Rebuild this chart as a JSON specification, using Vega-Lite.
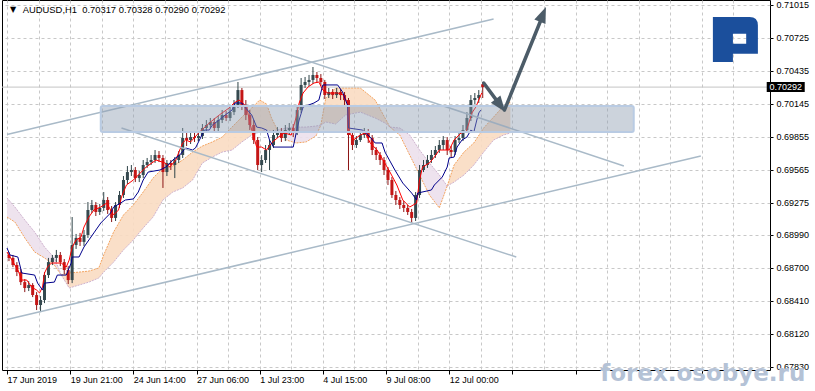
{
"$schema":"https://vega.github.io/schema/vega-lite/v6.json",
"width":768,"height":370,"autosize":{"type":"none"},
"padding":{"left":2,"top":0,"right":45,"bottom":21},
"background":"white",
"config":{"view":{"stroke":"black","strokeWidth":1},"font":"Liberation Sans"},
"datasets":{
"one":[{}],
"candles":[
{"t":4,"o":0.68814,"h":0.68840,"l":0.68760,"c":0.68788},{"t":8,"o":0.68788,"h":0.68814,"l":0.68707,"c":0.68725},{"t":12,"o":0.68725,"h":0.68751,"l":0.68628,"c":0.68663},{"t":16,"o":0.68663,"h":0.68690,"l":0.68549,"c":0.68575},{"t":20,"o":0.68575,"h":0.68602,"l":0.68487,"c":0.68523},{"t":24,"o":0.68523,"h":0.68584,"l":0.68496,"c":0.68549},{"t":28,"o":0.68549,"h":0.68566,"l":0.68443,"c":0.68461},{"t":32,"o":0.68461,"h":0.68487,"l":0.68329,"c":0.68373},{"t":36,"o":0.68373,"h":0.68452,"l":0.68311,"c":0.68417},{"t":40,"o":0.68417,"h":0.68663,"l":0.68390,"c":0.68637},
{"t":44,"o":0.68637,"h":0.68788,"l":0.68611,"c":0.68751},{"t":48,"o":0.68751,"h":0.68814,"l":0.68725,"c":0.68788},{"t":52,"o":0.68788,"h":0.68858,"l":0.68751,"c":0.68814},{"t":56,"o":0.68814,"h":0.68840,"l":0.68716,"c":0.68751},{"t":60,"o":0.68751,"h":0.68778,"l":0.68646,"c":0.68681},{"t":64,"o":0.68681,"h":0.68716,"l":0.68558,"c":0.68593},{"t":68,"o":0.68593,"h":0.69148,"l":0.68566,"c":0.68902},{"t":72,"o":0.68902,"h":0.68999,"l":0.68867,"c":0.68964},{"t":76,"o":0.68964,"h":0.69008,"l":0.68893,"c":0.68929},{"t":80,"o":0.68929,"h":0.69034,"l":0.68893,"c":0.68990},
{"t":84,"o":0.68990,"h":0.69280,"l":0.68964,"c":0.69210},{"t":88,"o":0.69210,"h":0.69298,"l":0.69184,"c":0.69254},{"t":92,"o":0.69254,"h":0.69280,"l":0.69157,"c":0.69192},{"t":96,"o":0.69192,"h":0.69263,"l":0.69166,"c":0.69228},{"t":100,"o":0.69228,"h":0.69368,"l":0.69201,"c":0.69298},{"t":104,"o":0.69298,"h":0.69324,"l":0.69175,"c":0.69210},{"t":108,"o":0.69210,"h":0.69245,"l":0.69104,"c":0.69140},{"t":112,"o":0.69140,"h":0.69280,"l":0.69113,"c":0.69254},{"t":116,"o":0.69254,"h":0.69377,"l":0.69228,"c":0.69342},{"t":120,"o":0.69342,"h":0.69509,"l":0.69316,"c":0.69474},
{"t":124,"o":0.69474,"h":0.69597,"l":0.69439,"c":0.69544},{"t":128,"o":0.69544,"h":0.69606,"l":0.69509,"c":0.69562},{"t":132,"o":0.69562,"h":0.69588,"l":0.69456,"c":0.69491},{"t":136,"o":0.69491,"h":0.69553,"l":0.69456,"c":0.69518},{"t":140,"o":0.69518,"h":0.69650,"l":0.69491,"c":0.69606},{"t":144,"o":0.69606,"h":0.69668,"l":0.69580,"c":0.69632},{"t":148,"o":0.69632,"h":0.69694,"l":0.69606,"c":0.69650},{"t":152,"o":0.69650,"h":0.69738,"l":0.69624,"c":0.69694},{"t":156,"o":0.69694,"h":0.69729,"l":0.69632,"c":0.69668},{"t":160,"o":0.69668,"h":0.69694,"l":0.69404,"c":0.69544},
{"t":164,"o":0.69544,"h":0.69650,"l":0.69509,"c":0.69624},{"t":168,"o":0.69624,"h":0.69650,"l":0.69562,"c":0.69606},{"t":172,"o":0.69606,"h":0.69676,"l":0.69491,"c":0.69650},{"t":176,"o":0.69650,"h":0.69729,"l":0.69624,"c":0.69694},{"t":180,"o":0.69694,"h":0.69932,"l":0.69668,"c":0.69844},{"t":184,"o":0.69844,"h":0.69888,"l":0.69773,"c":0.69826},{"t":188,"o":0.69826,"h":0.69888,"l":0.69791,"c":0.69852},{"t":192,"o":0.69852,"h":0.69888,"l":0.69809,"c":0.69844},{"t":196,"o":0.69844,"h":0.69896,"l":0.69817,"c":0.69861},{"t":200,"o":0.69861,"h":0.69967,"l":0.69835,"c":0.69932},
{"t":204,"o":0.69932,"h":0.70002,"l":0.69905,"c":0.69958},{"t":208,"o":0.69958,"h":0.70020,"l":0.69932,"c":0.69985},{"t":212,"o":0.69985,"h":0.70020,"l":0.69896,"c":0.69932},{"t":216,"o":0.69932,"h":0.70037,"l":0.69905,"c":0.70002},{"t":220,"o":0.70002,"h":0.70090,"l":0.69976,"c":0.70046},{"t":224,"o":0.70046,"h":0.70081,"l":0.69993,"c":0.70020},{"t":228,"o":0.70020,"h":0.70116,"l":0.69993,"c":0.70072},{"t":232,"o":0.70072,"h":0.70178,"l":0.70046,"c":0.70134},{"t":236,"o":0.70134,"h":0.70337,"l":0.70108,"c":0.70266},{"t":240,"o":0.70266,"h":0.70284,"l":0.70090,"c":0.70134},
{"t":244,"o":0.70134,"h":0.70178,"l":0.70002,"c":0.70046},{"t":248,"o":0.70046,"h":0.70090,"l":0.69914,"c":0.69958},{"t":252,"o":0.69958,"h":0.70002,"l":0.69791,"c":0.69826},{"t":256,"o":0.69826,"h":0.69852,"l":0.69562,"c":0.69606},{"t":260,"o":0.69606,"h":0.69694,"l":0.69544,"c":0.69650},{"t":264,"o":0.69650,"h":0.69782,"l":0.69624,"c":0.69738},{"t":268,"o":0.69738,"h":0.69826,"l":0.69562,"c":0.69782},{"t":272,"o":0.69782,"h":0.69914,"l":0.69756,"c":0.69870},{"t":276,"o":0.69870,"h":0.69940,"l":0.69844,"c":0.69896},{"t":280,"o":0.69896,"h":0.69932,"l":0.69809,"c":0.69844},
{"t":284,"o":0.69844,"h":0.69958,"l":0.69817,"c":0.69914},{"t":288,"o":0.69914,"h":0.69976,"l":0.69879,"c":0.69932},{"t":292,"o":0.69932,"h":0.69967,"l":0.69852,"c":0.69896},{"t":296,"o":0.69896,"h":0.70125,"l":0.69870,"c":0.70090},{"t":300,"o":0.70090,"h":0.70372,"l":0.70064,"c":0.70311},{"t":304,"o":0.70311,"h":0.70381,"l":0.70284,"c":0.70337},{"t":308,"o":0.70337,"h":0.70399,"l":0.70302,"c":0.70355},{"t":312,"o":0.70355,"h":0.70469,"l":0.70320,"c":0.70399},{"t":316,"o":0.70399,"h":0.70425,"l":0.70328,"c":0.70372},{"t":320,"o":0.70372,"h":0.70407,"l":0.70302,"c":0.70337},
{"t":324,"o":0.70337,"h":0.70355,"l":0.70187,"c":0.70222},{"t":328,"o":0.70222,"h":0.70284,"l":0.70196,"c":0.70249},{"t":332,"o":0.70249,"h":0.70275,"l":0.70187,"c":0.70222},{"t":336,"o":0.70222,"h":0.70284,"l":0.70196,"c":0.70249},{"t":340,"o":0.70249,"h":0.70275,"l":0.70178,"c":0.70222},{"t":344,"o":0.70222,"h":0.70249,"l":0.70134,"c":0.70178},{"t":348,"o":0.70178,"h":0.70196,"l":0.69562,"c":0.69870},{"t":352,"o":0.69870,"h":0.69896,"l":0.69738,"c":0.69782},{"t":356,"o":0.69782,"h":0.69861,"l":0.69756,"c":0.69826},{"t":360,"o":0.69826,"h":0.69905,"l":0.69809,"c":0.69870},
{"t":364,"o":0.69870,"h":0.69932,"l":0.69844,"c":0.69896},{"t":368,"o":0.69896,"h":0.69923,"l":0.69800,"c":0.69844},{"t":372,"o":0.69844,"h":0.69870,"l":0.69694,"c":0.69738},{"t":376,"o":0.69738,"h":0.69764,"l":0.69650,"c":0.69694},{"t":380,"o":0.69694,"h":0.69720,"l":0.69606,"c":0.69650},{"t":384,"o":0.69650,"h":0.69676,"l":0.69518,"c":0.69562},{"t":388,"o":0.69562,"h":0.69588,"l":0.69430,"c":0.69474},{"t":392,"o":0.69474,"h":0.69500,"l":0.69316,"c":0.69342},{"t":396,"o":0.69342,"h":0.69377,"l":0.69254,"c":0.69298},{"t":400,"o":0.69298,"h":0.69324,"l":0.69219,"c":0.69254},
{"t":404,"o":0.69254,"h":0.69289,"l":0.69192,"c":0.69228},{"t":408,"o":0.69228,"h":0.69254,"l":0.69166,"c":0.69192},{"t":412,"o":0.69192,"h":0.69219,"l":0.69096,"c":0.69140},{"t":416,"o":0.69140,"h":0.69368,"l":0.69113,"c":0.69342},{"t":420,"o":0.69342,"h":0.69606,"l":0.69316,"c":0.69562},{"t":424,"o":0.69562,"h":0.69650,"l":0.69544,"c":0.69606},{"t":428,"o":0.69606,"h":0.69694,"l":0.69580,"c":0.69650},{"t":432,"o":0.69650,"h":0.69738,"l":0.69624,"c":0.69694},{"t":436,"o":0.69694,"h":0.69773,"l":0.69668,"c":0.69738},{"t":440,"o":0.69738,"h":0.69826,"l":0.69712,"c":0.69782},
{"t":444,"o":0.69782,"h":0.69861,"l":0.69738,"c":0.69826},{"t":448,"o":0.69826,"h":0.69852,"l":0.69694,"c":0.69738},{"t":452,"o":0.69738,"h":0.69773,"l":0.69676,"c":0.69720},{"t":456,"o":0.69720,"h":0.69861,"l":0.69694,"c":0.69826},{"t":460,"o":0.69826,"h":0.69888,"l":0.69800,"c":0.69844},{"t":464,"o":0.69844,"h":0.69958,"l":0.69817,"c":0.69914},{"t":468,"o":0.69914,"h":0.70072,"l":0.69888,"c":0.70020},{"t":472,"o":0.70020,"h":0.70222,"l":0.69993,"c":0.70178},{"t":476,"o":0.70178,"h":0.70240,"l":0.70143,"c":0.70196},{"t":480,"o":0.70196,"h":0.70266,"l":0.70152,"c":0.70222},
{"t":484,"o":0.70317,"h":0.70337,"l":0.70196,"c":0.70292}
],
"cloud":[
{"seg":1,"kind":"bear","t":2,"a":0.69148,"b":0.69316},{"seg":1,"kind":"bear","t":10,"a":0.69104,"b":0.69236},{"seg":1,"kind":"bear","t":20,"a":0.68964,"b":0.69122},{"seg":1,"kind":"bear","t":30,"a":0.68840,"b":0.69016},{"seg":1,"kind":"bear","t":40,"a":0.68788,"b":0.68884},{"seg":1,"kind":"bear","t":50,"a":0.68725,"b":0.68788},{"seg":1,"kind":"bear","t":57,"a":0.68637,"b":0.68637},
{"seg":2,"kind":"bull","t":57,"a":0.68637,"b":0.68637},{"seg":2,"kind":"bull","t":65,"a":0.68655,"b":0.68523},{"seg":2,"kind":"bull","t":75,"a":0.68663,"b":0.68549},{"seg":2,"kind":"bull","t":85,"a":0.68672,"b":0.68575},{"seg":2,"kind":"bull","t":95,"a":0.68699,"b":0.68611},{"seg":2,"kind":"bull","t":100,"a":0.68814,"b":0.68663},{"seg":2,"kind":"bull","t":110,"a":0.69016,"b":0.68751},{"seg":2,"kind":"bull","t":120,"a":0.69166,"b":0.68858},{"seg":2,"kind":"bull","t":130,"a":0.69254,"b":0.68946},{"seg":2,"kind":"bull","t":140,"a":0.69368,"b":0.69052},{"seg":2,"kind":"bull","t":150,"a":0.69491,"b":0.69148},{"seg":2,"kind":"bull","t":160,"a":0.69580,"b":0.69298},{"seg":2,"kind":"bull","t":170,"a":0.69597,"b":0.69368},{"seg":2,"kind":"bull","t":180,"a":0.69650,"b":0.69404},{"seg":2,"kind":"bull","t":190,"a":0.69720,"b":0.69474},{"seg":2,"kind":"bull","t":200,"a":0.69773,"b":0.69624},{"seg":2,"kind":"bull","t":210,"a":0.69809,"b":0.69676},{"seg":2,"kind":"bull","t":220,"a":0.69852,"b":0.69720},{"seg":2,"kind":"bull","t":230,"a":0.69940,"b":0.69738},{"seg":2,"kind":"bull","t":240,"a":0.70028,"b":0.69809},{"seg":2,"kind":"bull","t":250,"a":0.70108,"b":0.69870},{"seg":2,"kind":"bull","t":258,"a":0.70178,"b":0.69896},{"seg":2,"kind":"bull","t":265,"a":0.70143,"b":0.69914},{"seg":2,"kind":"bull","t":270,"a":0.70020,"b":0.69905},{"seg":2,"kind":"bull","t":276,"a":0.69914,"b":0.69914},
{"seg":3,"kind":"bear","t":276,"a":0.69914,"b":0.69914},{"seg":3,"kind":"bear","t":285,"a":0.69826,"b":0.69932},{"seg":3,"kind":"bear","t":295,"a":0.69800,"b":0.69940},{"seg":3,"kind":"bear","t":305,"a":0.69809,"b":0.69940},{"seg":3,"kind":"bear","t":315,"a":0.69861,"b":0.69949},{"seg":3,"kind":"bear","t":320,"a":0.69958,"b":0.69958},
{"seg":4,"kind":"bull","t":320,"a":0.69958,"b":0.69958},{"seg":4,"kind":"bull","t":325,"a":0.70196,"b":0.69985},{"seg":4,"kind":"bull","t":335,"a":0.70284,"b":0.69967},{"seg":4,"kind":"bull","t":345,"a":0.70284,"b":0.70046},{"seg":4,"kind":"bull","t":360,"a":0.70284,"b":0.70072},{"seg":4,"kind":"bull","t":375,"a":0.70178,"b":0.70020},{"seg":4,"kind":"bull","t":385,"a":0.70020,"b":0.69976},{"seg":4,"kind":"bull","t":390,"a":0.69940,"b":0.69940},
{"seg":5,"kind":"bear","t":390,"a":0.69940,"b":0.69940},{"seg":5,"kind":"bear","t":400,"a":0.69870,"b":0.69932},{"seg":5,"kind":"bear","t":410,"a":0.69694,"b":0.69870},{"seg":5,"kind":"bear","t":420,"a":0.69518,"b":0.69738},{"seg":5,"kind":"bear","t":430,"a":0.69342,"b":0.69624},{"seg":5,"kind":"bear","t":440,"a":0.69228,"b":0.69518},{"seg":5,"kind":"bear","t":448,"a":0.69421,"b":0.69421},
{"seg":6,"kind":"bull","t":448,"a":0.69421,"b":0.69421},{"seg":6,"kind":"bull","t":455,"a":0.69606,"b":0.69456},{"seg":6,"kind":"bull","t":465,"a":0.69720,"b":0.69518},{"seg":6,"kind":"bull","t":475,"a":0.69800,"b":0.69606},{"seg":6,"kind":"bull","t":485,"a":0.69932,"b":0.69720},{"seg":6,"kind":"bull","t":495,"a":0.70028,"b":0.69826},{"seg":6,"kind":"bull","t":505,"a":0.70125,"b":0.69870},{"seg":6,"kind":"bull","t":512,"a":0.70160,"b":0.69888}
],
"tenkan":[
{"t":2,"p":0.68840},{"t":7,"p":0.68769},{"t":13,"p":0.68681},{"t":17,"p":0.68593},{"t":22,"p":0.68593},{"t":27,"p":0.68531},{"t":32,"p":0.68505},{"t":35,"p":0.68479},{"t":38,"p":0.68531},{"t":40,"p":0.68655},{"t":43,"p":0.68707},{"t":47,"p":0.68743},{"t":57,"p":0.68743},{"t":62,"p":0.68707},{"t":65,"p":0.68769},{"t":68,"p":0.68884},{"t":72,"p":0.68946},{"t":77,"p":0.68972},{"t":80,"p":0.69060},{"t":85,"p":0.69148},{"t":90,"p":0.69210},{"t":97,"p":0.69236},{"t":103,"p":0.69271},{"t":107,"p":0.69210},{"t":110,"p":0.69166},{"t":115,"p":0.69210},{"t":118,"p":0.69324},{"t":123,"p":0.69430},{"t":130,"p":0.69474},{"t":137,"p":0.69535},{"t":143,"p":0.69588},{"t":153,"p":0.69650},{"t":162,"p":0.69624},{"t":167,"p":0.69588},{"t":173,"p":0.69650},{"t":177,"p":0.69738},{"t":180,"p":0.69800},{"t":183,"p":0.69826},{"t":188,"p":0.69809},{"t":197,"p":0.69896},{"t":207,"p":0.69976},{"t":217,"p":0.70046},{"t":227,"p":0.70108},{"t":232,"p":0.70152},{"t":237,"p":0.70178},{"t":240,"p":0.70160},{"t":245,"p":0.70116},{"t":248,"p":0.69976},{"t":252,"p":0.69852},{"t":255,"p":0.69764},{"t":260,"p":0.69764},{"t":265,"p":0.69738},{"t":270,"p":0.69800},{"t":277,"p":0.69852},{"t":283,"p":0.69888},{"t":290,"p":0.69870},{"t":295,"p":0.70028},{"t":298,"p":0.70152},{"t":302,"p":0.70240},{"t":307,"p":0.70293},{"t":313,"p":0.70328},{"t":318,"p":0.70337},{"t":322,"p":0.70266},{"t":327,"p":0.70240},{"t":337,"p":0.70240},{"t":343,"p":0.70222},{"t":347,"p":0.70152},{"t":348,"p":0.69914},{"t":353,"p":0.69826},{"t":360,"p":0.69870},{"t":365,"p":0.69888},{"t":370,"p":0.69800},{"t":377,"p":0.69738},{"t":383,"p":0.69650},{"t":390,"p":0.69544},{"t":397,"p":0.69430},{"t":403,"p":0.69298},{"t":410,"p":0.69236},{"t":417,"p":0.69271},{"t":420,"p":0.69474},{"t":423,"p":0.69588},{"t":430,"p":0.69624},{"t":435,"p":0.69676},{"t":440,"p":0.69738},{"t":450,"p":0.69738},{"t":455,"p":0.69826},{"t":462,"p":0.69888},{"t":467,"p":0.69896},{"t":470,"p":0.69976},{"t":473,"p":0.70064},{"t":477,"p":0.70116},{"t":480,"p":0.70178},{"t":483,"p":0.70240}
],
"kijun":[
{"t":2,"p":0.68875},{"t":5,"p":0.68814},{"t":13,"p":0.68796},{"t":17,"p":0.68655},{"t":30,"p":0.68637},{"t":33,"p":0.68566},{"t":38,"p":0.68505},{"t":40,"p":0.68566},{"t":50,"p":0.68575},{"t":53,"p":0.68637},{"t":62,"p":0.68637},{"t":67,"p":0.68743},{"t":68,"p":0.68796},{"t":75,"p":0.68796},{"t":80,"p":0.68884},{"t":85,"p":0.68946},{"t":90,"p":0.69008},{"t":97,"p":0.69095},{"t":107,"p":0.69184},{"t":110,"p":0.69236},{"t":117,"p":0.69271},{"t":122,"p":0.69298},{"t":130,"p":0.69307},{"t":135,"p":0.69368},{"t":140,"p":0.69474},{"t":145,"p":0.69544},{"t":157,"p":0.69562},{"t":163,"p":0.69588},{"t":170,"p":0.69650},{"t":177,"p":0.69694},{"t":183,"p":0.69756},{"t":190,"p":0.69738},{"t":193,"p":0.69756},{"t":198,"p":0.69844},{"t":202,"p":0.69914},{"t":207,"p":0.69914},{"t":210,"p":0.69958},{"t":217,"p":0.70002},{"t":223,"p":0.70046},{"t":230,"p":0.70090},{"t":233,"p":0.70152},{"t":240,"p":0.70152},{"t":243,"p":0.70116},{"t":250,"p":0.70046},{"t":255,"p":0.69940},{"t":260,"p":0.69932},{"t":265,"p":0.69914},{"t":268,"p":0.69826},{"t":272,"p":0.69764},{"t":292,"p":0.69764},{"t":295,"p":0.69888},{"t":298,"p":0.70002},{"t":302,"p":0.70116},{"t":313,"p":0.70152},{"t":318,"p":0.70178},{"t":322,"p":0.70311},{"t":337,"p":0.70311},{"t":342,"p":0.70249},{"t":345,"p":0.70178},{"t":347,"p":0.70134},{"t":348,"p":0.69932},{"t":362,"p":0.69914},{"t":370,"p":0.69852},{"t":375,"p":0.69800},{"t":382,"p":0.69800},{"t":385,"p":0.69720},{"t":390,"p":0.69641},{"t":395,"p":0.69562},{"t":403,"p":0.69447},{"t":412,"p":0.69359},{"t":417,"p":0.69298},{"t":418,"p":0.69359},{"t":432,"p":0.69386},{"t":435,"p":0.69430},{"t":443,"p":0.69500},{"t":448,"p":0.69588},{"t":450,"p":0.69668},{"t":455,"p":0.69676},{"t":458,"p":0.69764},{"t":463,"p":0.69826},{"t":468,"p":0.69852},{"t":472,"p":0.69914},{"t":475,"p":0.69896},{"t":478,"p":0.70002},{"t":480,"p":0.70064},{"t":482,"p":0.70090}
],
"trend":[
{"line":"up1","t":2,"p":0.69874},{"line":"up1","t":495,"p":0.70892},
{"line":"up2","t":2,"p":0.68245},{"line":"up2","t":705,"p":0.69685},
{"line":"dn1","t":240,"p":0.70716},{"line":"dn1","t":627,"p":0.69597},
{"line":"dn2","t":118,"p":0.69932},{"line":"dn2","t":518,"p":0.68796}
],
"arrows":[
{"arrow":"a1","t":485,"p":0.70328},{"arrow":"a1","t":502,"p":0.70129},
{"arrow":"a2","t":506,"p":0.70090},{"arrow":"a2","t":545,"p":0.70927}
]
},
"layer":[
{"data":{"name":"cloud"},"mark":{"type":"area","clip":true,"opacity":0.9},
"encoding":{
"x":{"field":"t","type":"quantitative","scale":{"domain":[2,770],"nice":false,"zero":false},"title":null,
"axis":{"orient":"bottom","values":[2,34,66,98,130,162,194,226,258,290,322,354,386,418,450,482,514,546,578,610,642,674,706,738],"tickCount":100,
"labelExpr":"datum.value==2?'17 Jun 2019':datum.value==66?'19 Jun 21:00':datum.value==130?'24 Jun 14:00':datum.value==194?'27 Jun 06:00':datum.value==258?'1 Jul 23:00':datum.value==322?'4 Jul 15:00':datum.value==386?'9 Jul 08:00':datum.value==450?'12 Jul 00:00':''",
"grid":true,"gridDash":[3,3],"gridColor":"#c8c8c8","domain":false,"tickColor":"black","tickSize":4,
"tickOpacity":{"condition":{"test":"(datum.value-2)%64==0","value":1},"value":0},
"labelAlign":"left","labelBaseline":"top","labelPadding":1,"labelFont":"Liberation Sans","labelFontSize":9,"labelColor":"black","labelFlush":false,"labelOverlap":false,"labelBound":false}},
"y":{"field":"a","type":"quantitative","scale":{"domain":[0.67801,0.71059],"nice":false,"zero":false},"title":null,
"axis":{"orient":"right","values":[0.71015,0.70725,0.70435,0.70145,0.69855,0.69565,0.69275,0.68990,0.68700,0.68410,0.68120,0.67830],"tickCount":100,"format":".5f",
"grid":true,"gridDash":[3,3],"gridColor":"#c8c8c8","domain":false,"tickColor":"black","tickSize":3,"labelPadding":3,
"labelFont":"Liberation Sans","labelFontSize":9,"labelColor":"black","labelBaseline":"middle","labelOverlap":false,"labelFlush":false,"labelBound":false}},
"y2":{"field":"b"},
"color":{"field":"kind","type":"nominal","scale":{"domain":["bull","bear"],"range":["#fadcc2","#ece0ec"]},"legend":null},
"detail":{"field":"seg"}}},
{"data":{"name":"cloud"},"mark":{"type":"line","clip":true,"color":"#f4a460","strokeWidth":1,"strokeDash":[2,1]},
"encoding":{"x":{"field":"t","type":"quantitative","scale":{"domain":[2,770],"nice":false,"zero":false},"title":null},
"y":{"field":"a","type":"quantitative","scale":{"domain":[0.67801,0.71059],"nice":false,"zero":false},"title":null},"detail":{"field":"seg"}}},
{"data":{"name":"cloud"},"mark":{"type":"line","clip":true,"color":"#cfb2cf","strokeWidth":1,"strokeDash":[2,1]},
"encoding":{"x":{"field":"t","type":"quantitative","scale":{"domain":[2,770],"nice":false,"zero":false},"title":null},
"y":{"field":"b","type":"quantitative","scale":{"domain":[0.67801,0.71059],"nice":false,"zero":false},"title":null},"detail":{"field":"seg"}}},
{"data":{"name":"one"},"mark":{"type":"rule","color":"#c4c4c4","strokeWidth":1},
"encoding":{"y":{"datum":0.70292,"type":"quantitative","scale":{"domain":[0.67801,0.71059],"nice":false,"zero":false},"title":null}}},
{"data":{"name":"candles"},"mark":{"type":"rule","strokeWidth":1},
"encoding":{"x":{"field":"t","type":"quantitative","scale":{"domain":[2,770],"nice":false,"zero":false},"title":null},
"y":{"field":"l","type":"quantitative","scale":{"domain":[0.67801,0.71059],"nice":false,"zero":false},"title":null},"y2":{"field":"h"},
"color":{"condition":{"test":"datum.c>=datum.o","value":"#2f4448"},"value":"#8b1414"}}},
{"data":{"name":"candles"},"mark":{"type":"bar","width":3},
"encoding":{"x":{"field":"t","type":"quantitative","scale":{"domain":[2,770],"nice":false,"zero":false},"title":null},
"y":{"field":"o","type":"quantitative","scale":{"domain":[0.67801,0.71059],"nice":false,"zero":false},"title":null},"y2":{"field":"c"},
"color":{"condition":{"test":"datum.c>=datum.o","value":"#35494f"},"value":"#c41616"}}},
{"data":{"name":"tenkan"},"mark":{"type":"line","clip":true,"color":"#ff0000","strokeWidth":1},
"encoding":{"x":{"field":"t","type":"quantitative","scale":{"domain":[2,770],"nice":false,"zero":false},"title":null},
"y":{"field":"p","type":"quantitative","scale":{"domain":[0.67801,0.71059],"nice":false,"zero":false},"title":null}}},
{"data":{"name":"kijun"},"mark":{"type":"line","clip":true,"color":"#00008b","strokeWidth":1},
"encoding":{"x":{"field":"t","type":"quantitative","scale":{"domain":[2,770],"nice":false,"zero":false},"title":null},
"y":{"field":"p","type":"quantitative","scale":{"domain":[0.67801,0.71059],"nice":false,"zero":false},"title":null}}},
{"data":{"name":"trend"},"mark":{"type":"line","clip":true,"color":"#a9bac8","strokeWidth":1.5},
"encoding":{"x":{"field":"t","type":"quantitative","scale":{"domain":[2,770],"nice":false,"zero":false},"title":null},
"y":{"field":"p","type":"quantitative","scale":{"domain":[0.67801,0.71059],"nice":false,"zero":false},"title":null},"detail":{"field":"line"}}},
{"data":{"values":[{"t0":97,"t1":637,"p0":0.70125,"p1":0.69896}]},
"mark":{"type":"rect","fill":"#8d9db2","fillOpacity":0.45,"stroke":"#b9cbe3","strokeWidth":2,"cornerRadius":2},
"encoding":{"x":{"field":"t0","type":"quantitative","scale":{"domain":[2,770],"nice":false,"zero":false},"title":null},"x2":{"field":"t1"},
"y":{"field":"p0","type":"quantitative","scale":{"domain":[0.67801,0.71059],"nice":false,"zero":false},"title":null},"y2":{"field":"p1"}}},
{"data":{"name":"arrows"},"mark":{"type":"line","color":"#4c5c68","strokeWidth":3.5,"strokeCap":"round"},
"encoding":{"x":{"field":"t","type":"quantitative","scale":{"domain":[2,770],"nice":false,"zero":false},"title":null},
"y":{"field":"p","type":"quantitative","scale":{"domain":[0.67801,0.71059],"nice":false,"zero":false},"title":null},"detail":{"field":"arrow"}}},
{"data":{"name":"one"},"mark":{"type":"point","shape":"M0,-1L0.75,1L-0.75,1Z","size":256,"filled":true,"opacity":1,"color":"#4c5c68","angle":142.8},
"encoding":{"x":{"datum":502,"type":"quantitative","scale":{"domain":[2,770],"nice":false,"zero":false},"title":null},
"y":{"datum":0.70129,"type":"quantitative","scale":{"domain":[0.67801,0.71059],"nice":false,"zero":false},"title":null}}},
{"data":{"name":"one"},"mark":{"type":"point","shape":"M0,-1L0.75,1L-0.75,1Z","size":256,"filled":true,"opacity":1,"color":"#4c5c68","angle":22.2},
"encoding":{"x":{"datum":545,"type":"quantitative","scale":{"domain":[2,770],"nice":false,"zero":false},"title":null},
"y":{"datum":0.70932,"type":"quantitative","scale":{"domain":[0.67801,0.71059],"nice":false,"zero":false},"title":null}}},
{"data":{"name":"one"},"mark":{"type":"point","shape":"M-1,-1L0.63,-1Q1,-1 1,-0.63L1,0.63L-0.11,0.63L-0.11,1L-1,1ZM-0.11,-0.26L-0.11,0.19L0.48,0.19L0.48,-0.26Z","size":2025,"filled":true,"opacity":1,"color":"#1b4f9c"},
"encoding":{"x":{"datum":740,"type":"quantitative","scale":{"domain":[2,770],"nice":false,"zero":false},"title":null},
"y":{"datum":0.70711,"type":"quantitative","scale":{"domain":[0.67801,0.71059],"nice":false,"zero":false},"title":null}}},
{"data":{"name":"one"},"mark":{"type":"point","shape":"M-1,-0.263L1,-0.263L1,0.263L-1,0.263Z","size":1444,"filled":true,"opacity":1,"color":"black"},
"encoding":{"x":{"datum":791,"type":"quantitative","scale":{"domain":[2,770],"nice":false,"zero":false},"title":null},
"y":{"datum":0.70292,"type":"quantitative","scale":{"domain":[0.67801,0.71059],"nice":false,"zero":false},"title":null}}},
{"data":{"name":"one"},"mark":{"type":"text","text":"0.70292","color":"white","font":"Liberation Sans","fontSize":9,"align":"center","baseline":"middle"},
"encoding":{"x":{"datum":791,"type":"quantitative","scale":{"domain":[2,770],"nice":false,"zero":false},"title":null},
"y":{"datum":0.70290,"type":"quantitative","scale":{"domain":[0.67801,0.71059],"nice":false,"zero":false},"title":null}}},
{"data":{"name":"one"},"mark":{"type":"text","text":"▼","color":"black","font":"DejaVu Sans","fontSize":8,"align":"left","baseline":"middle"},
"encoding":{"x":{"datum":5,"type":"quantitative","scale":{"domain":[2,770],"nice":false,"zero":false},"title":null},
"y":{"datum":0.70975,"type":"quantitative","scale":{"domain":[0.67801,0.71059],"nice":false,"zero":false},"title":null}}},
{"data":{"name":"one"},"mark":{"type":"text","text":"AUDUSD,H1\u00a0 0.70317 0.70328 0.70290 0.70292","color":"black","font":"Liberation Sans","fontSize":9.4,"align":"left","baseline":"middle"},
"encoding":{"x":{"datum":18,"type":"quantitative","scale":{"domain":[2,770],"nice":false,"zero":false},"title":null},
"y":{"datum":0.70975,"type":"quantitative","scale":{"domain":[0.67801,0.71059],"nice":false,"zero":false},"title":null}}},
{"data":{"name":"one"},"mark":{"type":"text","text":"forex.osobye.ru","color":"#b4c2d6","font":"DejaVu Sans","fontWeight":"bold","fontSize":23,"align":"left","baseline":"alphabetic"},
"encoding":{"x":{"datum":603,"type":"quantitative","scale":{"domain":[2,770],"nice":false,"zero":false},"title":null},
"y":{"datum":0.67704,"type":"quantitative","scale":{"domain":[0.67801,0.71059],"nice":false,"zero":false},"title":null}}}
]
}
